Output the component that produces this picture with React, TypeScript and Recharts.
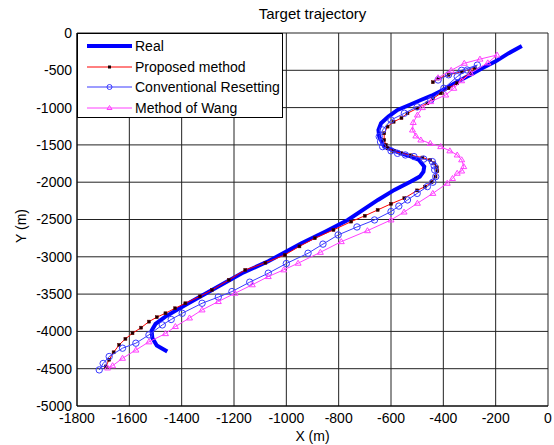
import { ScatterChart, Scatter, XAxis, YAxis, CartesianGrid } from 'recharts'

// [x, y] in metres
const realPts: [number, number][] = [
  [-100, -174], [-150, -270], [-200, -380], [-250, -470], [-296, -560], [-350, -660],
  [-400, -760], [-445, -840], [-486, -898], [-530, -965], [-575, -1032], [-610, -1120],
  [-638, -1210], [-648, -1300], [-645, -1389], [-626, -1523], [-590, -1575], [-562, -1613],
  [-525, -1655], [-493, -1702], [-473, -1791], [-476, -1858], [-490, -1925], [-524, -1992],
  [-587, -2103], [-650, -2238], [-765, -2506], [-850, -2660], [-942, -2818], [-1000, -2930],
  [-1069, -3060], [-1170, -3221], [-1284, -3444], [-1386, -3646], [-1462, -3802], [-1500, -3900],
  [-1515, -3990], [-1512, -4090], [-1495, -4190], [-1455, -4270],
]

const proposedPts: [number, number][] = [
  [-440, -660], [-420, -610], [-380, -560], [-330, -520], [-280, -470], [-300, -540],
  [-347, -674], [-380, -740], [-410, -808], [-440, -880], [-461, -942], [-500, -1010],
  [-537, -1076], [-560, -1140], [-590, -1190], [-613, -1255], [-626, -1344], [-626, -1434],
  [-620, -1500], [-613, -1546], [-590, -1585], [-560, -1613], [-524, -1640], [-480, -1670],
  [-450, -1702], [-435, -1746], [-425, -1800], [-423, -1850], [-430, -1925], [-445, -2000],
  [-470, -2060], [-500, -2110], [-549, -2215], [-600, -2290], [-651, -2372], [-700, -2450],
  [-752, -2528], [-820, -2640], [-891, -2751], [-950, -2860], [-1006, -2975], [-1080, -3080],
  [-1157, -3176], [-1220, -3310], [-1284, -3444], [-1330, -3530], [-1386, -3623], [-1425, -3690],
  [-1462, -3757], [-1495, -3810], [-1525, -3869], [-1555, -3950], [-1588, -4025], [-1615, -4100],
  [-1639, -4181], [-1660, -4280], [-1677, -4380], [-1690, -4470],
]

const conventionalPts: [number, number][] = [
  [-420, -630], [-380, -560], [-330, -500], [-270, -430], [-309, -496], [-347, -585],
  [-398, -741], [-448, -898], [-500, -990], [-549, -1076], [-600, -1166], [-632, -1300],
  [-645, -1389], [-640, -1460], [-632, -1523], [-600, -1580], [-575, -1613], [-545, -1635],
  [-512, -1657], [-475, -1690], [-442, -1724], [-435, -1780], [-433, -1836], [-429, -1925],
  [-440, -2000], [-461, -2059], [-500, -2150], [-537, -2238], [-570, -2320], [-600, -2394],
  [-663, -2506], [-730, -2600], [-802, -2707], [-860, -2830], [-917, -2952], [-1000, -3090],
  [-1069, -3220], [-1140, -3340], [-1208, -3466], [-1260, -3540], [-1322, -3623], [-1398, -3757],
  [-1440, -3840], [-1474, -3913], [-1525, -4047], [-1575, -4158], [-1626, -4225], [-1677, -4337],
  [-1700, -4430], [-1715, -4516],
]

const wangPts: [number, number][] = [
  [-420, -600], [-370, -500], [-320, -406], [-260, -350], [-195, -295], [-230, -400],
  [-296, -540], [-330, -640], [-360, -741], [-391, -831], [-448, -920], [-480, -1000],
  [-499, -1099], [-515, -1200], [-518, -1300], [-505, -1380], [-486, -1434], [-450, -1480],
  [-410, -1523], [-375, -1580], [-347, -1635], [-330, -1700], [-322, -1791], [-330, -1850],
  [-347, -1880], [-365, -1950], [-385, -2014], [-440, -2150], [-499, -2282], [-550, -2400],
  [-600, -2506], [-690, -2650], [-790, -2797], [-870, -2940], [-955, -3086], [-1010, -3175],
  [-1069, -3265], [-1130, -3375], [-1196, -3488], [-1260, -3600], [-1322, -3712], [-1370, -3820],
  [-1424, -3935], [-1462, -4030], [-1525, -4140], [-1575, -4250], [-1626, -4360], [-1664, -4460],
  [-1683, -4490],
]

const xTicks = [-1800, -1600, -1400, -1200, -1000, -800, -600, -400, -200, 0]
const yTicks = [-5000, -4500, -4000, -3500, -3000, -2500, -2000, -1500, -1000, -500, 0]

const toData = (pts: [number, number][]) => pts.map(([x, y]) => ({ x, y }))

const FONT = '"Liberation Sans", Arial, sans-serif'

const noDot = () => <g />

const squareDot = (p: any) => (
  <rect x={p.cx - 1.5} y={p.cy - 1.5} width={3} height={3} fill="#1a0000" stroke="#600000" strokeWidth={0.5} />
)

const circleDot = (p: any) => (
  <circle cx={p.cx} cy={p.cy} r={3.2} fill="none" stroke="#3a3aff" strokeWidth={1} />
)

const triDot = (p: any) => (
  <polygon
    points={`${p.cx},${p.cy - 3} ${p.cx - 3},${p.cy + 2} ${p.cx + 3},${p.cy + 2}`}
    fill="none"
    stroke="#ff40ff"
    strokeWidth={1}
  />
)

const LEGEND = [
  { label: 'Real', color: '#0000ff', width: 4, marker: null },
  { label: 'Proposed method', color: '#ff0000', width: 1, marker: 'square' },
  { label: 'Conventional Resetting', color: '#3a3aff', width: 1, marker: 'circle' },
  { label: 'Method of Wang', color: '#ff40ff', width: 1, marker: 'tri' },
]

function LegendBox() {
  return (
    <div
      style={{
        position: 'absolute',
        left: 77,
        top: 33,
        width: 206,
        height: 85,
        background: '#fff',
        border: '1px solid #000',
        boxSizing: 'border-box',
        fontFamily: FONT,
        fontSize: 14,
      }}
    >
      {LEGEND.map((item, i) => (
        <div key={item.label} style={{ position: 'absolute', left: 0, top: 3 + i * 20.7, height: 18, display: 'flex', alignItems: 'center' }}>
          <svg width={57} height={18}>
            <line x1={9} y1={9} x2={54} y2={9} stroke={item.color} strokeWidth={item.width} />
            {item.marker === 'square' && <rect x={30} y={7.5} width={3} height={3} fill="#1a0000" />}
            {item.marker === 'circle' && <circle cx={31.5} cy={9} r={2.5} fill="none" stroke={item.color} />}
            {item.marker === 'tri' && <polygon points="31.5,6.5 29,10.5 34,10.5" fill="none" stroke={item.color} />}
          </svg>
          <span style={{ color: '#000' }}>{item.label}</span>
        </div>
      ))}
    </div>
  )
}

export default function App() {
  return (
    <div style={{ position: 'absolute', left: 0, top: 0, width: 554, height: 445, background: '#fff' }}>
      <div style={{ position: 'absolute', left: 77, width: 471, top: 5, textAlign: 'center', fontFamily: FONT, fontSize: 15 }}>
        Target trajectory
      </div>
      <ScatterChart width={554} height={445} margin={{ top: 33, right: 6, bottom: 14, left: 17 }}>
        <CartesianGrid stroke="#222" strokeWidth={1} />
        <XAxis
          type="number"
          dataKey="x"
          domain={[-1800, 0]}
          ticks={xTicks}
          height={25}
          tickLine={false}
          tickSize={0}
          tickMargin={7}
          axisLine={{ stroke: '#000' }}
          tick={{ fontSize: 14, fill: '#000', fontFamily: FONT }}
        />
        <YAxis
          type="number"
          dataKey="y"
          domain={[-5000, 0]}
          ticks={yTicks}
          width={60}
          tickLine={false}
          tickSize={0}
          tickMargin={5}
          axisLine={{ stroke: '#000' }}
          tick={{ fontSize: 14, fill: '#000', fontFamily: FONT }}
        />
        <Scatter data={toData(realPts)} line={{ stroke: '#0000ff', strokeWidth: 4 }} lineType="joint" shape={noDot} isAnimationActive={false} />
        <Scatter data={toData(proposedPts)} line={{ stroke: '#ff0000', strokeWidth: 1 }} lineType="joint" shape={squareDot} isAnimationActive={false} />
        <Scatter data={toData(conventionalPts)} line={{ stroke: '#3a3aff', strokeWidth: 1 }} lineType="joint" shape={circleDot} isAnimationActive={false} />
        <Scatter data={toData(wangPts)} line={{ stroke: '#ff40ff', strokeWidth: 1 }} lineType="joint" shape={triDot} isAnimationActive={false} />
      </ScatterChart>
      <LegendBox />
      <div style={{ position: 'absolute', left: 77, width: 471, top: 428, textAlign: 'center', fontFamily: FONT, fontSize: 14 }}>
        X (m)
      </div>
      <div
        style={{
          position: 'absolute',
          left: 21,
          top: 226,
          transform: 'translate(-50%, -50%) rotate(-90deg)',
          fontFamily: FONT,
          fontSize: 14,
          whiteSpace: 'nowrap',
        }}
      >
        Y (m)
      </div>
    </div>
  )
}
